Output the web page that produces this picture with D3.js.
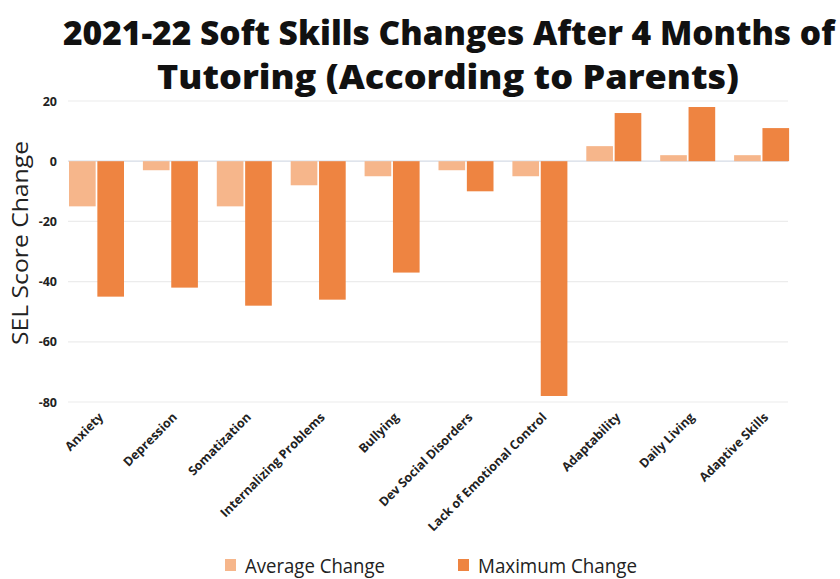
<!DOCTYPE html>
<html><head><meta charset="utf-8">
<script src="https://cdn.jsdelivr.net/npm/d3@7"></script>
<style>body{margin:0;background:#fff}svg{display:block}</style>
</head><body>
<svg id="c" width="840" height="579"></svg>
<script>
const categories = ["Anxiety","Depression","Somatization","Internalizing Problems","Bullying","Dev Social Disorders","Lack of Emotional Control","Adaptability","Daily Living","Adaptive Skills"];
const averageChange = [-15,-3,-15,-8,-5,-3,-5,5,2,2];
const maximumChange = [-45,-42,-48,-46,-37,-10,-78,16,18,11];
const seriesNames = ["Average Change","Maximum Change"];
const yTicks = [20,0,-20,-40,-60,-80];
const colors = ["#f6b68b","#ee8441"];

const svg = d3.select("#c");
const font = "'Open Sans', 'DejaVu Sans', sans-serif";

const x = d3.scaleBand().domain(categories).range([68, 807]).paddingInner(0).paddingOuter(0);
const y = d3.scaleLinear().domain([-80, 20]).range([402, 101]);
const xs = d3.scaleBand().domain(seriesNames).range([1, 56]).paddingInner(0.06);

// title
const title = svg.append("g").attr("font-family", font).attr("font-weight", 800).attr("font-size", 33).attr("fill", "#111").attr("text-anchor", "middle");
title.append("text").attr("x", 449).attr("y", 45).attr("textLength", 772).attr("lengthAdjust", "spacingAndGlyphs").text("2021-22 Soft Skills Changes After 4 Months of");
title.append("text").attr("x", 448).attr("y", 89).attr("textLength", 582).attr("lengthAdjust", "spacingAndGlyphs").text("Tutoring (According to Parents)");

// grid
svg.append("g").selectAll("line").data(yTicks).join("line")
  .attr("x1", 68).attr("x2", 788)
  .attr("y1", d => y(d)).attr("y2", d => y(d))
  .attr("stroke", d => d === 0 ? "#d5dbe6" : "#ececec").attr("stroke-width", 1.2);

// y axis labels
const yAxis = d3.axisLeft(y).tickValues(yTicks).tickSize(0).tickPadding(0).tickFormat(d => String(d));
const ya = svg.append("g").attr("transform", "translate(57,0)").call(yAxis);
ya.select(".domain").remove();
ya.selectAll("text").attr("font-family", font).attr("font-weight", 700).attr("font-size", 12.5).attr("fill", "#222");

svg.append("text").attr("transform", "translate(28,243) rotate(-90)")
  .attr("text-anchor", "middle").attr("font-family", font).attr("font-size", 22).attr("fill", "#222")
  .attr("textLength", 204).attr("lengthAdjust", "spacingAndGlyphs")
  .text("SEL Score Change");

// bars
const rows = categories.map((c, i) => ({c, v: [averageChange[i], maximumChange[i]]}));
const g = svg.append("g").selectAll("g").data(rows).join("g").attr("transform", d => `translate(${x(d.c)},0)`);
g.selectAll("rect").data(d => d.v.map((v, j) => ({v, s: seriesNames[j], j}))).join("rect")
  .attr("x", d => xs(d.s)).attr("width", xs.bandwidth())
  .attr("y", d => y(Math.max(0, d.v))).attr("height", d => Math.abs(y(d.v) - y(0)))
  .attr("fill", d => colors[d.j]);

// x labels
svg.append("g").selectAll("text").data(categories).join("text")
  .attr("transform", d => `translate(${x(d) + 36},${418}) rotate(-45)`)
  .attr("text-anchor", "end").attr("font-family", font).attr("font-weight", 700).attr("font-size", 12.5).attr("fill", "#222")
  .text(d => d);

// legend
const lg = svg.append("g").attr("font-family", font).attr("font-size", 20).attr("fill", "#222");
const lx = [225, 458];
const lw = [140, 159];
seriesNames.forEach((s, i) => {
  lg.append("rect").attr("x", lx[i]).attr("y", 559).attr("width", 11).attr("height", 12).attr("fill", colors[i]);
  lg.append("text").attr("x", lx[i] + 20).attr("y", 573).attr("textLength", lw[i]).attr("lengthAdjust", "spacingAndGlyphs").text(s);
});
</script>
</body></html>
